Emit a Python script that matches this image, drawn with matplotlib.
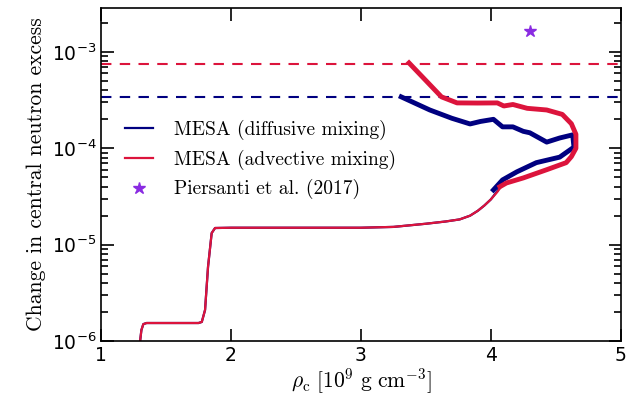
import numpy as np
import matplotlib
matplotlib.use('Agg')
import matplotlib.pyplot as plt
from matplotlib.ticker import LogLocator, FixedLocator

# lower branch (both runs follow the same track)
rho_low = [1.30, 1.31, 1.325, 1.35, 1.75, 1.775, 1.80, 1.823, 1.851, 1.877, 2.0, 2.5, 3.0, 3.25,
           3.5, 3.65, 3.76, 3.84, 3.90, 3.95, 4.0, 4.05, 4.09]
dye_low_diff = [1.0e-6, 1.3e-6, 1.5e-6, 1.54e-6, 1.54e-6, 1.58e-6, 2.1e-6, 5.9e-6, 1.32e-5, 1.49e-5,
                1.5e-5, 1.5e-5, 1.5e-5, 1.53e-5, 1.65e-5, 1.74e-5, 1.83e-5, 2.0e-5, 2.25e-5, 2.55e-5,
                2.95e-5, 3.6e-5, 4.3e-5]
dye_low_adv = [1.0e-6, 1.3e-6, 1.5e-6, 1.54e-6, 1.54e-6, 1.58e-6, 2.1e-6, 5.9e-6, 1.32e-5, 1.49e-5,
               1.5e-5, 1.5e-5, 1.5e-5, 1.53e-5, 1.65e-5, 1.74e-5, 1.83e-5, 2.0e-5, 2.25e-5, 2.55e-5,
               2.95e-5, 3.53e-5, 4.2e-5]

# upper branch, diffusive mixing
rho_up_diff = [3.31, 3.53, 3.70, 3.84, 3.92, 4.02, 4.09, 4.17, 4.25, 4.30, 4.43, 4.53, 4.63,
               4.64, 4.53, 4.35, 4.20, 4.09, 4.02]
dye_up_diff = [3.42e-4, 2.5e-4, 2.05e-4, 1.79e-4, 1.9e-4, 2.0e-4, 1.67e-4, 1.67e-4, 1.5e-4, 1.45e-4,
               1.16e-4, 1.28e-4, 1.38e-4, 1.03e-4, 8.1e-5, 7.1e-5, 5.7e-5, 4.7e-5, 3.7e-5]

# upper branch, advective mixing
rho_up_adv = [3.37, 3.62, 3.74, 3.90, 4.05, 4.10, 4.17, 4.28, 4.43, 4.55, 4.62, 4.655, 4.655,
              4.62, 4.58, 4.43, 4.25, 4.12, 4.07]
dye_up_adv = [7.7e-4, 3.42e-4, 2.96e-4, 2.95e-4, 2.96e-4, 2.75e-4, 2.85e-4, 2.6e-4, 2.5e-4, 2.25e-4,
              1.8e-4, 1.4e-4, 1.0e-4, 8.2e-5, 7.1e-5, 6.0e-5, 4.93e-5, 4.37e-5, 4.0e-5]

# reference levels and literature point
level_diff = 3.42e-4
level_adv = 7.5e-4
pier_rho = [4.3]
pier_dye = [1.65e-3]

blue = '#000080'
red = '#dc143c'
purple = '#8a2be2'

fig = plt.figure(figsize=(6.36, 3.98), dpi=100)
ax = fig.add_axes([0.159, 0.143, 0.817, 0.837])

ax.axhline(level_adv, color=red, ls='--', lw=1.5, dashes=(5, 4))
ax.axhline(level_diff, color=blue, ls='--', lw=1.5, dashes=(5, 4))

ax.plot(rho_low, dye_low_diff, color=blue, lw=1.6, solid_joinstyle='round',
        label='MESA (diffusive mixing)')
ax.plot(rho_low, dye_low_adv, color=red, lw=1.6, solid_joinstyle='round',
        label='MESA (advective mixing)')
ax.plot(rho_up_diff, dye_up_diff, color=blue, lw=3.5, solid_joinstyle='round')
ax.plot(rho_up_adv, dye_up_adv, color=red, lw=3.5, solid_joinstyle='round')
ax.plot(pier_rho, pier_dye, ls='none', marker='*', ms=9, color=purple, label='Piersanti et al. (2017)')

ax.set_yscale('log')
ax.set_xlim(1, 5)
ax.set_ylim(1e-6, 2.86e-3)
ax.xaxis.set_major_locator(FixedLocator([1, 2, 3, 4, 5]))
ax.yaxis.set_major_locator(LogLocator(base=10))
ax.yaxis.set_minor_locator(LogLocator(base=10, subs=np.arange(2, 10)))
ax.tick_params(which='both', direction='in', top=True, right=True, labelsize=13.5, width=1.2)
ax.tick_params(which='major', length=9)
ax.tick_params(which='minor', length=5)
for s in ax.spines.values():
    s.set_linewidth(1.2)

ax.set_xlabel(r'$\rho_{\rm c}\ [10^9\ {\rm g\ cm^{-3}}]$', fontsize=15.5, math_fontfamily='cm',
              labelpad=1)
ax.set_ylabel('Change in central neutron excess', family='cmr10', fontsize=15.5)

leg = ax.legend(loc='center left', bbox_to_anchor=(0.012, 0.545), frameon=False,
                prop={'family': 'cmr10', 'size': 14}, handlelength=1.45, handletextpad=1.1,
                labelspacing=0.5)

plt.savefig('out.png', dpi=100)
